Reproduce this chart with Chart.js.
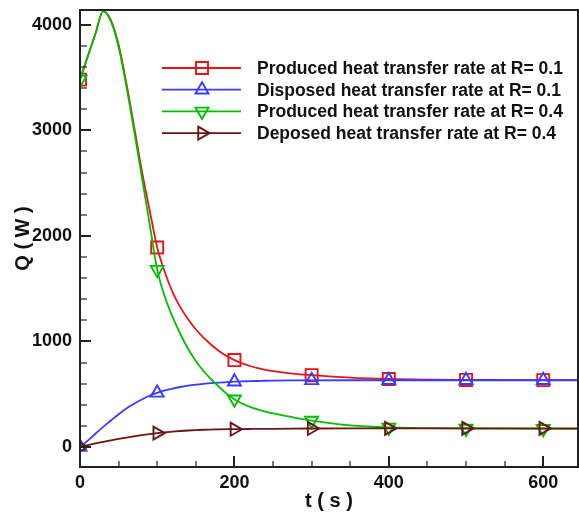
<!DOCTYPE html>
<html>
<head>
<meta charset="utf-8">
<script src="https://cdn.jsdelivr.net/npm/chart.js@4.4.1/dist/chart.umd.min.js"></script>
<style>
  html,body{margin:0;padding:0;background:#fff;}
</style>
</head>
<body>
<canvas id="chart" width="579" height="513"></canvas>
<script>
// time samples of the curves (s); markers sit on every 100 s
const tSec    = [0,10,20,30,40,50,60,70,80,90,100,110,120,130,140,150,160,170,180,190,200,210,220,230,240,250,275,300,350,400,450,500,550,600,650];
const prodR01 = [3480,3700,3915,4130,4045,3810,3450,3040,2620,2250,1890,1655,1465,1325,1210,1115,1035,968,910,862,823,792,767,747,731,718,695,680,657,644,638,635,634,633,633];
const dispR01 = [0,60,125,190,250,310,365,410,450,485,512,535,553,568,580,590,598,605,610,614,618,621,623,625,627,628,630,631,632,632,632,632,632,632,632];
const prodR04 = [3480,3700,3915,4130,4034,3790,3420,3000,2560,2120,1680,1420,1230,1070,930,815,720,640,570,505,452,412,380,355,335,318,282,250,205,185,178,175,173,172,172];
const dispR04 = [0,17,33,48,62,76,89,101,112,122,131,139,145,151,156,160,163,165,167,168,168,169,170,171,171,172,174,175,176,176,176,176,176,176,176];

const seriesNames = [
  "Produced heat transfer rate at R= 0.1",
  "Disposed heat transfer rate at R= 0.1",
  "Produced heat transfer rate at R= 0.4",
  "Deposed heat transfer rate at R= 0.4"
];
const xTicks = [0,200,400,600];
const yTicks = [0,1000,2000,3000,4000];

const pts = (vals)=>tSec.map((t,i)=>({x:t, y:vals[i]}));
const markAt = (ctx)=>{
  const t = tSec[ctx.dataIndex];
  return (t%100===0 && t<=600) ? 1 : 0;
};

function series(label, vals, color, style, rot, r, order){
  return {
    label, data: pts(vals), order,
    borderColor: color, borderWidth: 1.8,
    cubicInterpolationMode: "monotone",
    pointStyle: style, pointRotation: rot,
    pointRadius: (c)=>markAt(c)*r, markerR: r,
    pointBorderColor: color, pointBackgroundColor: "rgba(0,0,0,0)",
    pointBorderWidth: 1.9, pointHoverRadius: 0
  };
}

const legendBox = {
  id: "legendBox",
  afterDatasetsDraw(chart){
    const ctx = chart.ctx;
    chart.data.datasets.forEach((ds,i)=>{
      const y = 68 + i*21.7;
      ctx.save();
      ctx.strokeStyle = ds.borderColor;
      ctx.lineWidth = ds.borderWidth;
      ctx.beginPath(); ctx.moveTo(162,y); ctx.lineTo(241,y); ctx.stroke();
      ctx.fillStyle = "rgba(0,0,0,0)";
      ctx.lineWidth = 1.9;
      Chart.helpers.drawPoint(ctx, {pointStyle: ds.pointStyle, radius: ds.markerR, rotation: ds.pointRotation, borderWidth: 1.9}, 202, y);
      ctx.fillStyle = "#111";
      ctx.font = "bold 17.5px 'Liberation Sans', Arial, sans-serif";
      ctx.textBaseline = "middle";
      ctx.fillText(ds.label, 257, y+1);
      ctx.restore();
    });
  }
};

// frame + inward ticks like the original plot
const frame = {
  id: "frame",
  afterDatasetsDraw(chart){
    const {ctx, chartArea:a, scales:{x,y}} = chart;
    ctx.save();
    ctx.strokeStyle = "#222";
    const seg = (x1,y1,x2,y2,w)=>{ ctx.lineWidth=w; ctx.beginPath(); ctx.moveTo(x1,y1); ctx.lineTo(x2,y2); ctx.stroke(); };
    for(let v=0; v<=x.max; v+=50){
      const px = Math.round(x.getPixelForValue(v));
      const major = v%200===0;
      seg(px, a.bottom, px, a.bottom-(major?11:6), major?2:1.2);
    }
    for(let v=0; v<=y.max; v+=200){
      const py = Math.round(y.getPixelForValue(v));
      const major = v%1000===0;
      seg(a.left, py, a.left+(major?11:7), py, major?2:1.2);
    }
    ctx.lineWidth = 2;
    ctx.strokeRect(a.left, a.top, a.right-a.left, a.bottom-a.top);
    ctx.restore();
  }
};

const tickFont = {family:"'Liberation Sans', Arial, sans-serif", size:18, weight:"bold"};
const titleFont = {family:"'Liberation Sans', Arial, sans-serif", size:20, weight:"bold"};

new Chart(document.getElementById("chart"), {
  type: "line",
  data: {
    datasets: [
      series(seriesNames[0], prodR01, "rgb(235,20,20)", "rect", 0, 8.5, 3),
      series(seriesNames[1], dispR01, "rgb(55,60,255)", "triangle", 0, 7.5, 2),
      series(seriesNames[2], prodR04, "rgb(0,190,0)", "triangle", 180, 7.5, 1),
      series(seriesNames[3], dispR04, "rgb(110,20,20)", "triangle", 90, 7.5, 0)
    ]
  },
  options: {
    responsive: false,
    animation: false,
    layout: { autoPadding: false, padding: { top: 10, right: 1, left: 0, bottom: 0 } },
    plugins: { legend: { display: false }, tooltip: { enabled: false } },
    scales: {
      x: {
        type: "linear", min: 0, max: 645,
        afterBuildTicks: (s)=>{ s.ticks = xTicks.map(v=>({value:v})); },
        afterFit: (s)=>{ s.height = 46; s.paddingLeft = 0; s.paddingRight = 0; },
        grid: { display: false, drawTicks: false },
        border: { display: false },
        ticks: { font: tickFont, color: "#111", padding: 5, maxRotation: 0, callback: (v)=>String(v) },
        title: { display: true, text: "t ( s )", font: titleFont, color: "#111", padding: { top: 0, bottom: 0 } }
      },
      y: {
        type: "linear", min: -190, max: 4140,
        afterBuildTicks: (s)=>{ s.ticks = yTicks.map(v=>({value:v})); },
        afterFit: (s)=>{ s.width = 80; s.paddingTop = 0; s.paddingBottom = 0; },
        grid: { display: false, drawTicks: false },
        border: { display: false },
        ticks: { font: tickFont, color: "#111", padding: 8, callback: (v)=>String(v) },
        title: { display: true, text: "Q ( W )", font: titleFont, color: "#111", padding: { top: 11, bottom: 0 } }
      }
    }
  },
  plugins: [legendBox, frame]
});
</script>
</body>
</html>
